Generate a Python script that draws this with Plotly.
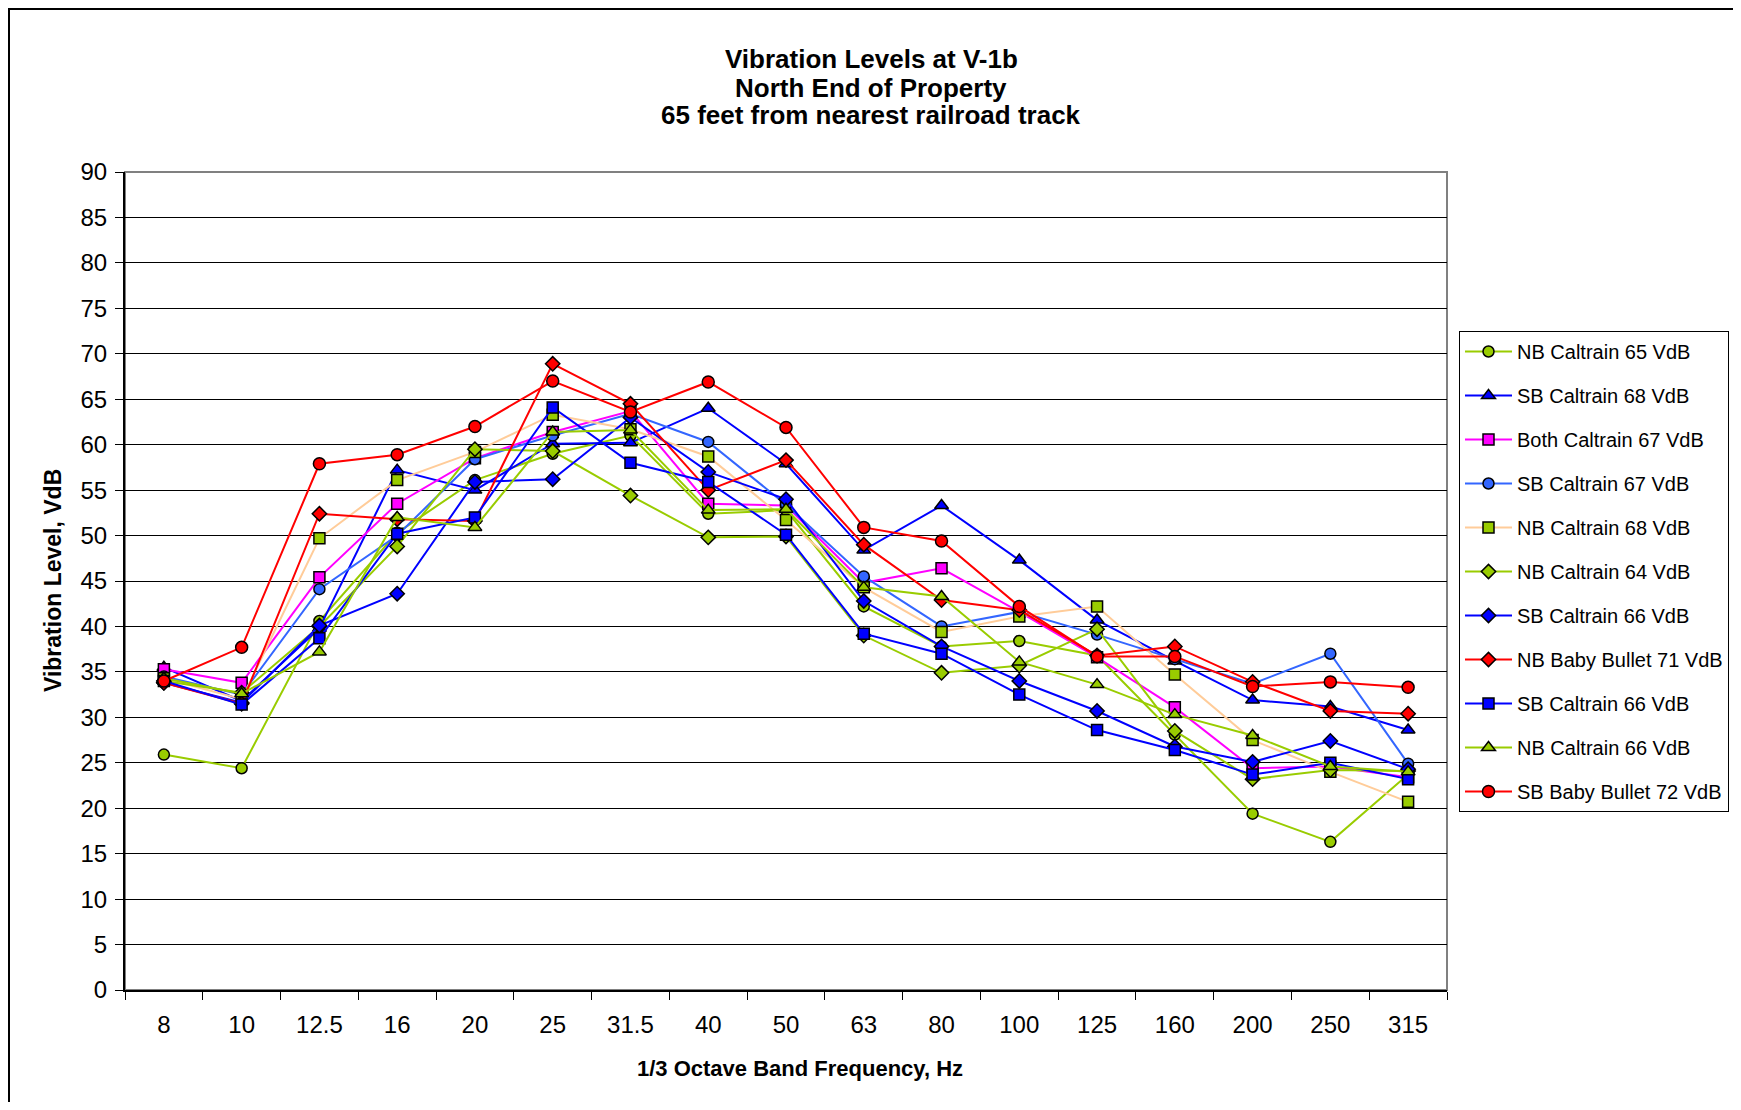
import plotly.graph_objects as go

categories = ["8", "10", "12.5", "16", "20", "25", "31.5", "40", "50", "63", "80",
              "100", "125", "160", "200", "250", "315"]

nb_caltrain_65 = [25.9, 24.4, 40.6, 50.3, 56.1, 59.0, 61.0, 52.4, 52.8, 42.2, 37.8, 38.4, 36.8, 28.1, 19.4, 16.3, 23.7]
sb_caltrain_68 = [35.5, 31.8, 39.8, 57.2, 55.0, 60.1, 60.2, 64.0, 57.9, 48.4, 53.3, 47.3, 40.7, 36.2, 31.9, 31.2, 28.6]
both_caltrain_67 = [35.3, 33.8, 45.4, 53.5, 58.5, 61.4, 63.7, 53.5, 53.3, 44.8, 46.4, 41.6, 36.6, 31.1, 24.4, 24.6, 23.4]
sb_caltrain_67 = [34.5, 32.5, 44.1, 50.0, 58.4, 61.0, 63.4, 60.3, 53.4, 45.5, 40.0, 41.6, 39.1, 36.4, 33.7, 37.0, 24.9]
nb_caltrain_68 = [34.3, 32.0, 49.7, 56.1, 59.2, 63.3, 61.7, 58.7, 51.7, 44.3, 39.4, 41.1, 42.2, 34.7, 27.5, 24.0, 20.7]
nb_caltrain_64 = [34.0, 32.7, 40.0, 48.8, 59.5, 59.3, 54.4, 49.8, 49.9, 39.0, 34.9, 35.7, 39.7, 28.5, 23.2, 24.2, 24.1]
sb_caltrain_66a = [33.8, 31.6, 40.1, 43.6, 55.9, 56.2, 63.0, 57.0, 54.0, 42.8, 37.8, 34.0, 30.7, 26.8, 25.1, 27.4, 24.3]
nb_baby_bullet_71 = [33.8, 31.5, 52.4, 51.8, 51.6, 68.9, 64.5, 55.0, 58.3, 49.0, 42.9, 41.8, 36.8, 37.8, 33.9, 30.7, 30.4]
sb_caltrain_66b = [34.0, 31.4, 38.7, 50.2, 52.0, 64.1, 58.0, 55.9, 50.1, 39.2, 37.0, 32.5, 28.6, 26.4, 23.7, 25.0, 23.2]
nb_caltrain_66 = [34.3, 32.6, 37.2, 52.0, 50.9, 61.4, 61.6, 52.8, 52.9, 44.3, 43.3, 36.1, 33.6, 30.3, 28.0, 24.6, 24.0]
sb_baby_bullet_72 = [34.0, 37.7, 57.9, 58.9, 62.0, 67.0, 63.6, 66.9, 61.9, 50.9, 49.4, 42.2, 36.7, 36.7, 33.4, 33.9, 33.3]

series_names = ["NB Caltrain 65 VdB", "SB Caltrain 68 VdB", "Both Caltrain 67 VdB",
                "SB Caltrain 67 VdB", "NB Caltrain 68 VdB", "NB Caltrain 64 VdB",
                "SB Caltrain 66 VdB", "NB Baby Bullet 71 VdB", "SB Caltrain 66 VdB",
                "NB Caltrain 66 VdB", "SB Baby Bullet 72 VdB"]
series_values = [nb_caltrain_65, sb_caltrain_68, both_caltrain_67, sb_caltrain_67,
                 nb_caltrain_68, nb_caltrain_64, sb_caltrain_66a, nb_baby_bullet_71,
                 sb_caltrain_66b, nb_caltrain_66, sb_baby_bullet_72]
line_colors = ["#99CC00", "#0000FF", "#FF00FF", "#3366FF", "#FFCC99", "#99CC00",
               "#0000FF", "#FF0000", "#0000FF", "#99CC00", "#FF0000"]
marker_colors = ["#99CC00", "#0000FF", "#FF00FF", "#3366FF", "#99CC00", "#99CC00",
                 "#0000FF", "#FF0000", "#0000FF", "#99CC00", "#FF0000"]
symbols = ["circle", "triangle-up", "square", "circle", "square", "diamond",
           "diamond", "diamond", "square", "triangle-up", "circle"]
sizes = [11, 12, 11, 11, 11, 11, 11, 11, 11, 12, 12]

FONT = "Liberation Sans, Arial, sans-serif"

fig = go.Figure()
for i, (name, vals) in enumerate(zip(series_names, series_values)):
    fig.add_trace(go.Scatter(
        x=categories, y=vals, name=name, mode="lines+markers",
        legendgroup=f"g{i}",
        line=dict(color=line_colors[i], width=2),
        marker=dict(symbol=symbols[i], size=sizes[i], color=marker_colors[i],
                    line=dict(color="black", width=1.5)),
    ))

# page body has an 8px margin; work in page coordinates and convert
OFF = 8
W, H = 1741 - OFF, 1110 - 2 * OFF
L, R, T, B = 125 - OFF, 1447 - OFF, 172 - OFF, 990 - OFF
pw, ph = R - L, B - T

def px(x):
    return (x - OFF - L) / pw

def py(y):
    return (B - (y - OFF)) / ph

annotations = []
for txt, yy in [("Vibration Levels at V-1b", 59), ("North End of Property", 88),
                ("65 feet from nearest railroad track", 115)]:
    annotations.append(dict(text=f"<b>{txt}</b>", xref="paper", yref="paper",
                            x=px(871), y=py(yy), xanchor="center", yanchor="middle",
                            showarrow=False, font=dict(size=26, color="black", family=FONT)))
annotations.append(dict(text="<b>Vibration Level, VdB</b>", xref="paper", yref="paper",
                        x=px(53), y=py(581), xanchor="center", yanchor="middle", textangle=-90,
                        showarrow=False, font=dict(size=23, color="black", family=FONT)))
annotations.append(dict(text="<b>1/3 Octave Band Frequency, Hz</b>", xref="paper", yref="paper",
                        x=px(800), y=py(1068), xanchor="center", yanchor="middle",
                        showarrow=False, font=dict(size=22, color="black", family=FONT)))

shapes = [
    # outer chart frame
    dict(type="rect", xref="paper", yref="paper", x0=px(9), x1=px(1738), y0=py(1130), y1=py(9),
         line=dict(color="black", width=2), layer="below"),
    # plot area border (gray)
    dict(type="rect", xref="paper", yref="paper", x0=0, x1=1, y0=0, y1=1,
         line=dict(color="#808080", width=2), layer="below"),
]

fig.update_layout(
    width=W, height=H,
    margin=dict(l=L, r=W - R, t=T, b=H - B, pad=0),
    paper_bgcolor="white", plot_bgcolor="white",
    font=dict(family=FONT, color="black"),
    showlegend=True,
    legend=dict(x=px(1459), y=py(331), xanchor="left", yanchor="top",
                bordercolor="black", borderwidth=1, bgcolor="white",
                font=dict(size=20, family=FONT, color="black"),
                tracegroupgap=15, itemwidth=47, traceorder="grouped"),
    xaxis=dict(type="category", categoryorder="array", categoryarray=categories,
               range=[-0.5, len(categories) - 0.5],
               showgrid=False, showline=True, linecolor="black", linewidth=2,
               ticks="outside", tickson="boundaries", ticklen=8, tickcolor="black", tickwidth=1,
               ticklabelstandoff=12,
               tickfont=dict(size=24, color="black", family=FONT)),
    yaxis=dict(range=[0, 90], dtick=5, tick0=0,
               showgrid=True, gridcolor="black", gridwidth=1,
               showline=True, linecolor="black", linewidth=2, zeroline=False,
               ticks="outside", ticklen=8, tickcolor="black", tickwidth=1,
               ticklabelstandoff=3,
               tickfont=dict(size=24, color="black", family=FONT)),
    annotations=annotations,
    shapes=shapes,
)

fig.write_html("out.html")
